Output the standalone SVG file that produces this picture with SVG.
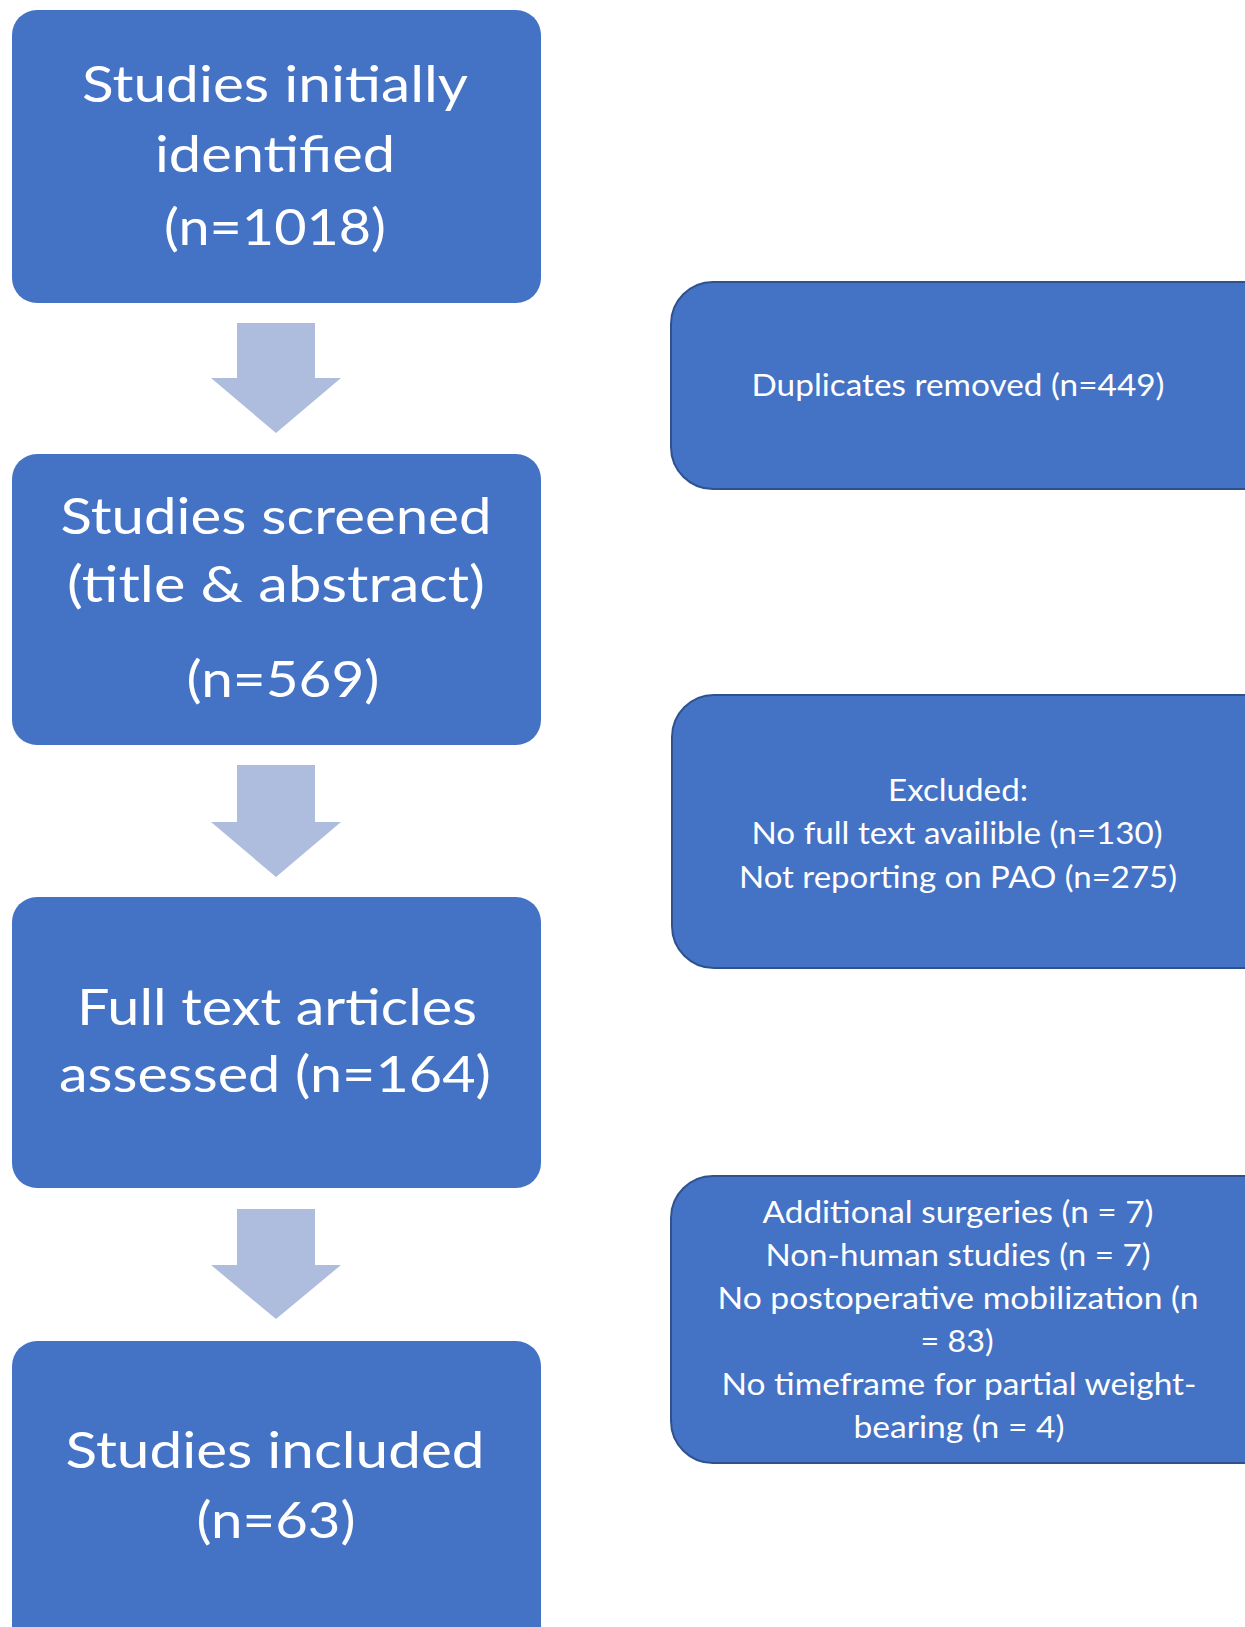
<svg xmlns="http://www.w3.org/2000/svg" width="1245" height="1627" viewBox="0 0 1245 1627">
<style>
.main{fill:#4472C4;}
.side{fill:#4472C4;stroke:#2F528F;stroke-width:2;}
.arrow{fill:#AEBCDE;}
text{font-family:Lato,"Open Sans","Liberation Sans",sans-serif;fill:#FFFFFF;text-anchor:middle;}
.big{font-size:51px;}
.small{font-size:30px;}
</style>
<rect width="1245" height="1627" fill="#FFFFFF"/>
<g id="connectors">
<polygon class="arrow" points="237,323 315,323 315,378 341,378 276,433 211,378 237,378"/>
<polygon class="arrow" points="237,765 315,765 315,822 341,822 276,877 211,822 237,822"/>
<polygon class="arrow" points="237,1209 315,1209 315,1265 341,1265 276,1319 211,1265 237,1265"/>
</g>
<g id="node-identified">
<rect class="main" x="12" y="10" width="529" height="293" rx="25"/>
<text class="big" x="275" y="102" textLength="386" lengthAdjust="spacingAndGlyphs">Studies initially</text>
<text class="big" x="275" y="172" textLength="240" lengthAdjust="spacingAndGlyphs">identified</text>
<text class="big" x="275" y="245" textLength="222" lengthAdjust="spacingAndGlyphs">(n=1018)</text>
</g>
<g id="node-screened">
<rect class="main" x="12" y="454" width="529" height="291" rx="25"/>
<text class="big" x="276" y="534" textLength="431" lengthAdjust="spacingAndGlyphs">Studies screened</text>
<text class="big" x="276" y="602" textLength="418" lengthAdjust="spacingAndGlyphs">(title &amp; abstract)</text>
<text class="big" x="283" y="697" textLength="193" lengthAdjust="spacingAndGlyphs">(n=569)</text>
</g>
<g id="node-fulltext">
<rect class="main" x="12" y="897" width="529" height="291" rx="25"/>
<text class="big" x="277" y="1025" textLength="400" lengthAdjust="spacingAndGlyphs">Full text articles</text>
<text class="big" x="275" y="1092" textLength="432" lengthAdjust="spacingAndGlyphs">assessed (n=164)</text>
</g>
<g id="node-included">
<rect class="main" x="12" y="1341" width="529" height="310" rx="25"/>
<text class="big" x="275" y="1468" textLength="419" lengthAdjust="spacingAndGlyphs">Studies included</text>
<text class="big" x="276" y="1538" textLength="159" lengthAdjust="spacingAndGlyphs">(n=63)</text>
</g>
<g id="node-duplicates">
<rect class="side" x="671" y="282" width="620" height="207" rx="42"/>
<text class="small" x="958" y="396" textLength="413" lengthAdjust="spacingAndGlyphs">Duplicates removed (n=449)</text>
</g>
<g id="node-excluded1">
<rect class="side" x="672" y="695" width="620" height="273" rx="42"/>
<text class="small" x="958" y="801" textLength="140" lengthAdjust="spacingAndGlyphs">Excluded:</text>
<text class="small" x="957" y="844" textLength="411" lengthAdjust="spacingAndGlyphs">No full text availible (n=130)</text>
<text class="small" x="958" y="888" textLength="438" lengthAdjust="spacingAndGlyphs">Not reporting on PAO (n=275)</text>
</g>
<g id="node-excluded2">
<rect class="side" x="671" y="1176" width="620" height="287" rx="42"/>
<text class="small" x="958" y="1223" textLength="391" lengthAdjust="spacingAndGlyphs">Additional surgeries (n = 7)</text>
<text class="small" x="958" y="1266" textLength="385" lengthAdjust="spacingAndGlyphs">Non-human studies (n = 7)</text>
<text class="small" x="958" y="1309" textLength="481" lengthAdjust="spacingAndGlyphs">No postoperative mobilization (n</text>
<text class="small" x="957" y="1352" textLength="73" lengthAdjust="spacingAndGlyphs">= 83)</text>
<text class="small" x="959" y="1395" textLength="475" lengthAdjust="spacingAndGlyphs">No timeframe for partial weight-</text>
<text class="small" x="959" y="1438" textLength="211" lengthAdjust="spacingAndGlyphs">bearing (n = 4)</text>
</g>
</svg>
